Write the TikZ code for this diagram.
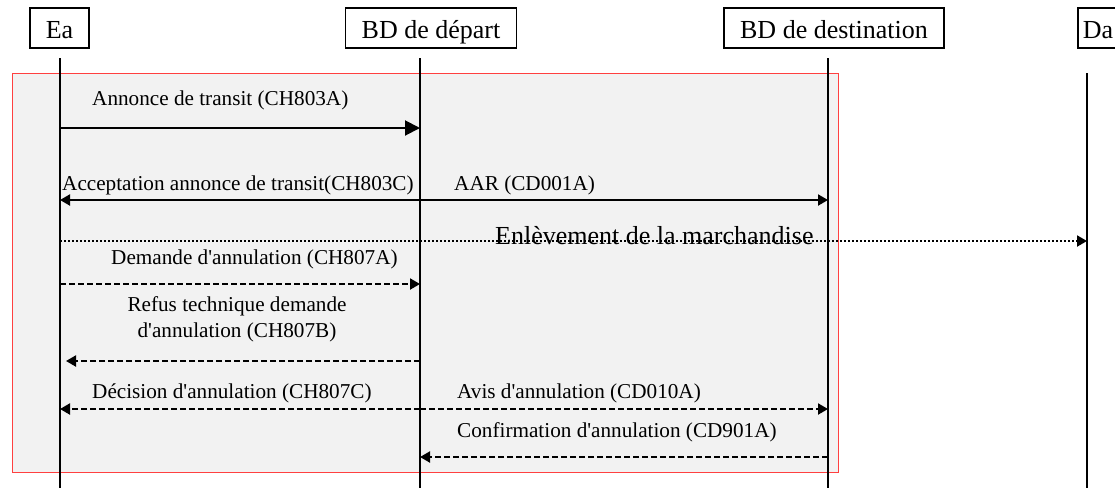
\documentclass[tikz,border=0pt]{standalone}
\usepackage{fontspec}
\setmainfont{Liberation Serif}[Ligatures=TeXOff]
\usetikzlibrary{arrows.meta, positioning}

\begin{document}
\begin{tikzpicture}[
    x=1pt, y=-1pt,
    actor/.style={draw, line width=1.6pt, inner xsep=16pt, inner ysep=8pt, text height=22pt, text depth=2pt, font=\fontsize{26}{30}\selectfont},
    lifeline/.style={line width=2pt},
    msg/.style={anchor=base west, inner sep=0pt, font=\fontsize{21.2}{26}\selectfont},
    call/.style={line width=2pt, -{Triangle[length=10pt,width=11pt]}},
    bigcall/.style={line width=2pt, -{Triangle[length=15pt,width=15pt]}},
    reply/.style={call, dash pattern=on 6pt off 3pt},
    pickup/.style={line width=2pt, dash pattern=on 2pt off 2pt, -{Triangle[length=10pt,width=11pt]}}
]
\useasboundingbox (0,0) rectangle (1115,488);

% Frame
\draw[draw=red!75, fill=black!5, line width=1pt] (12,73) rectangle (838,472);

% Nodes
\node[actor] (ea) at (59.5,28) {Ea};
\node[actor] (dep) at (431,28) {BD de départ};
\node[actor] (dest) at (834,28) {BD de destination};
\node[actor, anchor=west, inner xsep=5pt] (da) at (1077,28) {Da\hspace{20pt}};

% Lifelines
\coordinate (ea top) at (60,58);
\coordinate (ea bot) at (60,488);
\coordinate (dep top) at (420,58);
\coordinate (dep bot) at (420,488);
\coordinate (dest top) at (828,58);
\coordinate (dest bot) at (828,488);
\coordinate (da top) at (1087,73);
\coordinate (da bot) at (1087,488);
\draw[lifeline] (ea top) -- (ea bot);
\draw[lifeline] (dep top) -- (dep bot);
\draw[lifeline] (dest top) -- (dest bot);
\draw[lifeline] (da top) -- (da bot);

% Message rows
\coordinate (m1) at (0,128);
\coordinate (m2) at (0,200);
\coordinate (m3) at (0,241);
\coordinate (m4) at (0,284);
\coordinate (m5) at (0,361);
\coordinate (m6) at (0,409);
\coordinate (m7) at (0,457);

% Labels
\node[msg] (annonce) at (92,105) {Annonce de transit (CH803A)};
\node[msg] (accept) at (62,190) {Acceptation annonce de transit(CH803C)};
\node[msg] (aar) at (454,190) {AAR (CD001A)};
\node[msg, font=\fontsize{26}{30}\selectfont] (enlev) at (495,244) {Enlèvement de la marchandise};
\node[msg] (demande) at (111,264) {Demande d'annulation (CH807A)};
\node[msg, anchor=north, align=center] (refus) at (237,296.5) {Refus technique demande\\d'annulation (CH807B)};
\node[msg] (decision) at (92,398) {Décision d'annulation (CH807C)};
\node[msg] (avis) at (457,398) {Avis d'annulation (CD010A)};
\node[msg] (confirm) at (457,437) {Confirmation d'annulation (CD901A)};

% Arrows
\draw[bigcall] (ea top |- m1) -- (dep top |- m1);
\draw[call] (dep top |- m2) -- (ea top |- m2);
\draw[call] (dep top |- m2) -- (dest top |- m2);
\draw[pickup] (ea top |- m3) -- (da top |- m3);
\draw[reply] (ea top |- m4) -- (dep top |- m4);
\draw[reply, shorten >=6pt] (dep top |- m5) -- (ea top |- m5);
\draw[reply] (dep top |- m6) -- (ea top |- m6);
\draw[reply] (dep top |- m6) -- (dest top |- m6);
\draw[reply] (dest top |- m7) -- (dep top |- m7);

\end{tikzpicture}
\end{document}
